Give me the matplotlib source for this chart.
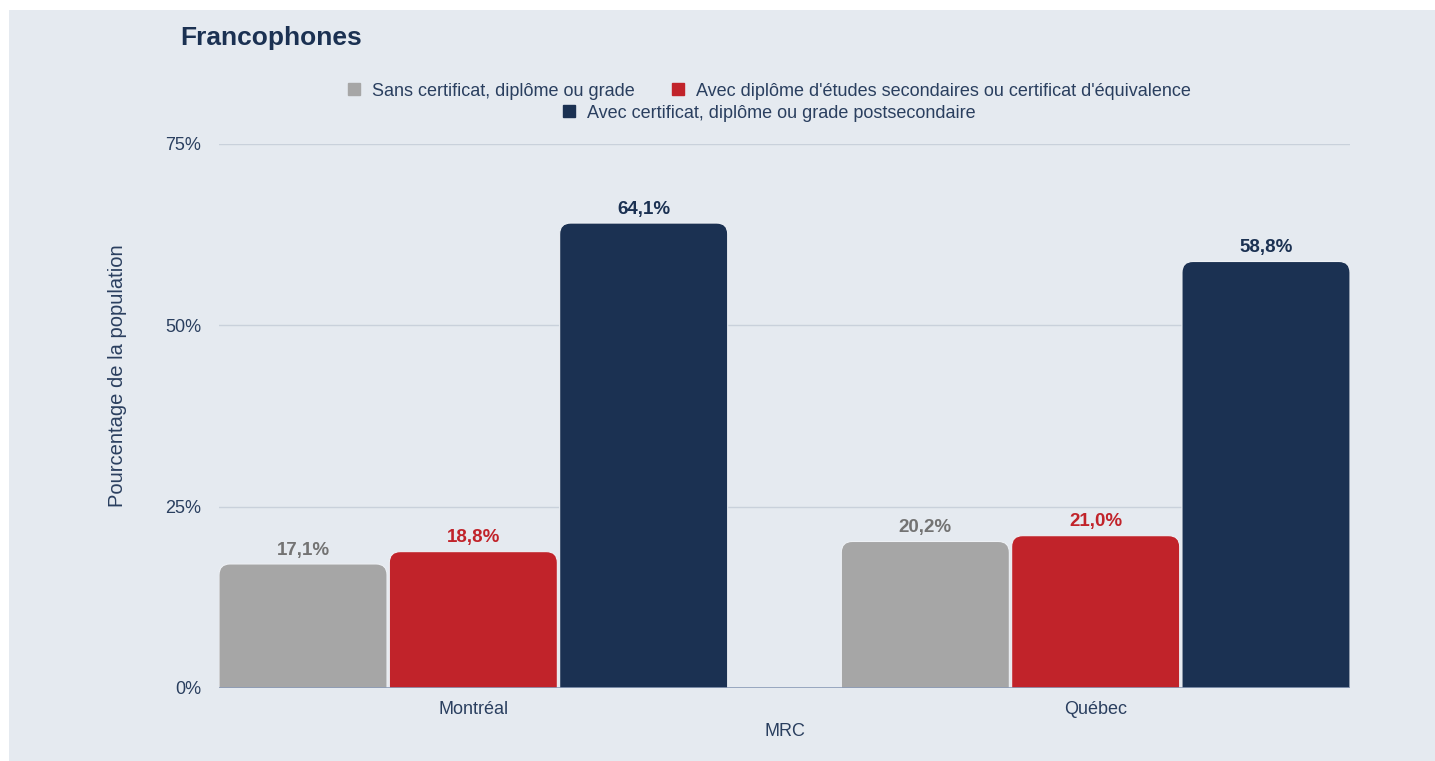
import matplotlib
matplotlib.use("Agg")
import matplotlib.pyplot as plt
from matplotlib.patches import FancyBboxPatch, Rectangle
from matplotlib.lines import Line2D
import numpy as np

plt.rcParams['font.family'] = ['Liberation Sans', 'DejaVu Sans']

# data
categories = ["Montréal", "Québec"]
series_names = ["Sans certificat, diplôme ou grade",
                "Avec diplôme d'études secondaires ou certificat d'équivalence",
                "Avec certificat, diplôme ou grade postsecondaire"]
sans_diplome = [17.1, 20.2]
secondaire = [18.8, 21.0]
postsecondaire = [64.1, 58.8]
y_ticks = [0, 25, 50, 75]

series_values = [sans_diplome, secondaire, postsecondaire]
bar_colors = ["#a6a6a6", "#c1232a", "#1b3152"]
label_colors = ["#737373", "#c1232a", "#1b3152"]
text_color = "#2a3f5f"
bg = "#e5eaf0"

W, H = 1435, 761
fig = plt.figure(figsize=(W / 100, H / 100), dpi=100)
fig.patch.set_facecolor("white")
fig.patches.append(Rectangle((9 / W, 0), 1 - 9 / W, 1 - 10 / H, transform=fig.transFigure,
                             facecolor=bg, edgecolor="none", zorder=-10))

ax_l, ax_r, ax_t, ax_b = 219, 1350, 144, 688
ax = fig.add_axes([ax_l / W, 1 - ax_b / H, (ax_r - ax_l) / W, (ax_b - ax_t) / H])
ax.set_facecolor(bg)

width = 0.27
offset = 0.2737
x = np.arange(len(categories))
xmin, xmax = -offset - width / 2, 1 + offset + width / 2
ax.set_xlim(xmin, xmax)
ax.set_ylim(0, 75)

px_x = (ax_r - ax_l) / (xmax - xmin)
px_y = (ax_b - ax_t) / 75
radius_px = 11
r = radius_px / px_x
aspect = px_x / px_y

for i, vals in enumerate(series_values):
    xs = x + (i - 1) * offset
    for xc, v in zip(xs, vals):
        # extend below zero so only the top corners show as rounded
        box = FancyBboxPatch((xc - width / 2, -5), width, v + 5,
                             boxstyle=f"round,pad=0,rounding_size={r}",
                             mutation_aspect=aspect,
                             facecolor=bar_colors[i], edgecolor="#eef1f5", linewidth=0.8,
                             zorder=3)
        ax.add_patch(box)
        ax.text(xc, v + 0.75, f"{v:.1f}%".replace(".", ","), ha="center", va="bottom",
                fontsize=13.5, fontweight="bold", color=label_colors[i], zorder=4)

ax.set_yticks(y_ticks)
ax.set_yticklabels([f"{t}%" for t in y_ticks])
ax.yaxis.grid(True, color="#c9d1db", linewidth=1)
ax.set_axisbelow(True)
ax.axhline(0, color="#8c9cb8", linewidth=1.2, zorder=5)
ax.set_xticks(x)
ax.set_xticklabels(categories)
ax.tick_params(axis="both", length=0, labelsize=13, labelcolor=text_color)
ax.tick_params(axis="x", pad=9)
ax.tick_params(axis="y", pad=13)
for s in ax.spines.values():
    s.set_visible(False)

ax.set_xlabel("MRC", fontsize=13, color=text_color, labelpad=4)
fig.text(118 / W, 1 - 376 / H, "Pourcentage de la population", fontsize=14.5,
         color=text_color, rotation=90, ha="center", va="center")

fig.text(180 / W, 1 - 38 / H, "Francophones", fontsize=19, fontweight="bold",
         color="#1b3152", va="center", ha="left")

handles = [Line2D([], [], marker="s", linestyle="none", markersize=8,
                  markerfacecolor=c, markeredgecolor=c) for c in bar_colors]
leg1 = fig.legend(handles[:2], series_names[:2], loc="center", ncol=2,
                  bbox_to_anchor=(769 / W, 1 - 91 / H), frameon=False, fontsize=13,
                  handlelength=0.8, handletextpad=0.6, columnspacing=2.0,
                  labelcolor=text_color, borderpad=0)
leg2 = fig.legend(handles[2:], series_names[2:], loc="center", ncol=1,
                  bbox_to_anchor=(769 / W, 1 - 113 / H), frameon=False, fontsize=13,
                  handlelength=0.8, handletextpad=0.6,
                  labelcolor=text_color, borderpad=0)

fig.savefig("out.png", dpi=100, facecolor=fig.get_facecolor())
